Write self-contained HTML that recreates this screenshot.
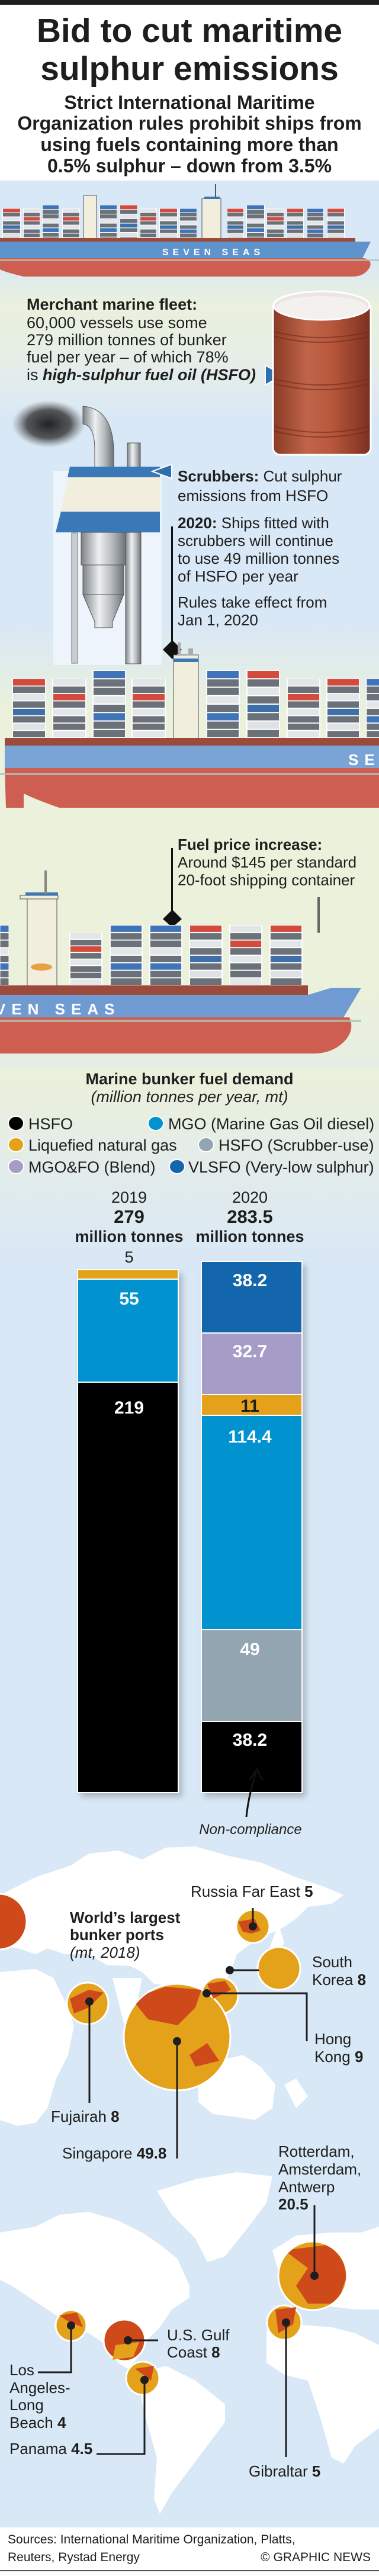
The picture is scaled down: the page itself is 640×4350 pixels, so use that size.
<!DOCTYPE html>
<html><head><meta charset="utf-8"><style>
html,body{margin:0;padding:0;background:#fff}
svg{display:block}
text{font-family:"Liberation Sans",Arial,sans-serif;fill:#1e1e1e}
.b{font-weight:bold}
</style></head><body>
<svg xmlns="http://www.w3.org/2000/svg" width="640" height="4350" viewBox="0 0 640 4350">
<defs>
<linearGradient id="bg1" x1="0" y1="0" x2="0" y2="1">
<stop offset="0" stop-color="#d9e8f6"/><stop offset="0.09" stop-color="#d9e8f6"/>
<stop offset="0.14" stop-color="#eaf1dd"/><stop offset="0.2" stop-color="#e6eee6"/>
<stop offset="0.27" stop-color="#d9e8f6"/><stop offset="0.5" stop-color="#d9e8f6"/>
<stop offset="0.6" stop-color="#ebf1db"/><stop offset="0.9" stop-color="#ebf1da"/>
<stop offset="1" stop-color="#e6eee4"/></linearGradient>
<linearGradient id="bg2" x1="0" y1="0" x2="0" y2="1">
<stop offset="0" stop-color="#ebf1da"/><stop offset="0.5" stop-color="#e3ecea"/><stop offset="1" stop-color="#d9e8f6"/></linearGradient>
<linearGradient id="barrel" x1="0" y1="0" x2="1" y2="0">
<stop offset="0" stop-color="#8a3a26"/><stop offset="0.35" stop-color="#c0654a"/><stop offset="0.6" stop-color="#b8573c"/><stop offset="1" stop-color="#7a3020"/></linearGradient>
<linearGradient id="metal" x1="0" y1="0" x2="1" y2="0">
<stop offset="0" stop-color="#7d8286"/><stop offset="0.4" stop-color="#eef0f1"/><stop offset="0.7" stop-color="#b5babe"/><stop offset="1" stop-color="#6d7276"/></linearGradient>
<radialGradient id="smoke"><stop offset="0" stop-color="#222"/><stop offset="0.6" stop-color="#333" stop-opacity="0.8"/><stop offset="1" stop-color="#666" stop-opacity="0"/></radialGradient>
<filter id="sh" x="-20%" y="-20%" width="140%" height="140%"><feGaussianBlur stdDeviation="5"/></filter>
<symbol id="sA" viewBox="0 0 60 112" preserveAspectRatio="none">
<rect width="60" height="112" fill="#fff"/>
<rect x="2" y="1" width="56" height="12" fill="#d24b3c"/><rect x="2" y="15" width="56" height="12" fill="#6b7178"/><rect x="2" y="29" width="56" height="12" fill="#e3e6e9"/><rect x="2" y="43" width="56" height="12" fill="#6b7178"/><rect x="2" y="57" width="56" height="12" fill="#3f6fa8"/><rect x="2" y="71" width="56" height="12" fill="#6b7178"/><rect x="2" y="85" width="56" height="12" fill="#dfe2e5"/><rect x="2" y="99" width="56" height="12" fill="#6b7178"/></symbol>
<symbol id="sB" viewBox="0 0 60 112" preserveAspectRatio="none">
<rect width="60" height="112" fill="#fff"/>
<rect x="2" y="1" width="56" height="12" fill="#3f74b8"/><rect x="2" y="15" width="56" height="12" fill="#6b7178"/><rect x="2" y="29" width="56" height="12" fill="#6b7178"/><rect x="2" y="43" width="56" height="12" fill="#e3e6e9"/><rect x="2" y="57" width="56" height="12" fill="#6b7178"/><rect x="2" y="71" width="56" height="12" fill="#3f74b8"/><rect x="2" y="85" width="56" height="12" fill="#6b7178"/><rect x="2" y="99" width="56" height="12" fill="#6b7178"/></symbol>
<symbol id="sC" viewBox="0 0 60 112" preserveAspectRatio="none">
<rect width="60" height="112" fill="#fff"/>
<rect x="2" y="1" width="56" height="12" fill="#e3e6e9"/><rect x="2" y="15" width="56" height="12" fill="#6b7178"/><rect x="2" y="29" width="56" height="12" fill="#d24b3c"/><rect x="2" y="43" width="56" height="12" fill="#6b7178"/><rect x="2" y="57" width="56" height="12" fill="#e3e6e9"/><rect x="2" y="71" width="56" height="12" fill="#6b7178"/><rect x="2" y="85" width="56" height="12" fill="#6b7178"/><rect x="2" y="99" width="56" height="12" fill="#e3e6e9"/></symbol>
<clipPath id="cSing"><circle cx="299" cy="3440" r="89"/></clipPath>
<clipPath id="cRot"><circle cx="528" cy="3843" r="56"/></clipPath>
</defs>

<rect width="640" height="4350" fill="#d9e8f6"/>
<rect y="305" width="640" height="1500" fill="url(#bg1)"/>
<rect y="1805" width="640" height="330" fill="url(#bg2)"/>
<rect width="640" height="305" fill="#fff"/>
<rect width="640" height="8" fill="#1e1e1e"/>

<text x="320" y="71" text-anchor="middle" class="b" font-size="57">Bid to cut maritime</text>
<text x="320" y="135" text-anchor="middle" class="b" font-size="57">sulphur emissions</text>
<text x="320" y="184" text-anchor="middle" class="b" font-size="32">Strict International Maritime</text>
<text x="320" y="219" text-anchor="middle" class="b" font-size="32">Organization rules prohibit ships from</text>
<text x="320" y="255" text-anchor="middle" class="b" font-size="32">using fuels containing more than</text>
<text x="320" y="291" text-anchor="middle" class="b" font-size="32">0.5% sulphur – down from 3.5%</text>

<g>
<use href="#sA" x="4" y="352" width="31" height="56"/><use href="#sC" x="39" y="352" width="29" height="56"/><use href="#sB" x="71" y="346" width="29" height="62"/><use href="#sC" x="105" y="352" width="30" height="56"/>
<rect x="141" y="330" width="22" height="78" fill="#f1eedd" stroke="#555" stroke-width="1"/>
<use href="#sB" x="168" y="346" width="30" height="62"/><use href="#sA" x="202" y="346" width="31" height="62"/><use href="#sC" x="236" y="352" width="29" height="56"/><use href="#sA" x="269" y="352" width="31" height="56"/><use href="#sB" x="303" y="352" width="30" height="56"/>
<rect x="341" y="335" width="32" height="73" fill="#f1eedd" stroke="#555" stroke-width="1"/><rect x="345" y="332" width="26" height="4" fill="#3f74b8"/><rect x="363" y="311" width="2" height="22" fill="#555"/>
<use href="#sA" x="383" y="352" width="29" height="56"/><use href="#sB" x="416" y="346" width="31" height="62"/><use href="#sC" x="450" y="352" width="30" height="56"/><use href="#sA" x="484" y="352" width="29" height="56"/><use href="#sB" x="518" y="352" width="29" height="56"/><use href="#sA" x="552" y="352" width="30" height="56"/>
<rect x="0" y="402" width="600" height="7" fill="#9b4a3c"/>
<polygon points="0,408 626,408 612,436 0,436" fill="#5f93cc"/>
<text x="360" y="431" text-anchor="middle" class="b" font-size="16" letter-spacing="7" style="fill:#fff">SEVEN SEAS</text>
<path d="M0,436 L615,436 Q630,440 624,452 Q615,467 595,467 L40,467 Q10,460 0,455 Z" fill="#cf5e52"/>
<rect x="0" y="438" width="640" height="3" fill="#a9c7b5" opacity="0.8"/>
</g>

<text x="45" y="523" class="b" font-size="27">Merchant marine fleet:</text>
<text x="45" y="554" font-size="27">60,000 vessels use some</text>
<text x="45" y="583" font-size="27">279 million tonnes of bunker</text>
<text x="45" y="612" font-size="27">fuel per year – of which 78%</text>
<text x="45" y="642" font-size="27">is <tspan class="b" font-style="italic">high-sulphur fuel oil (HSFO)</tspan></text>
<polygon points="448,617 478,633 448,650" fill="#2e6fb0" stroke="#fff" stroke-width="2"/>

<g>
<rect x="461" y="510" width="165" height="258" rx="12" fill="url(#barrel)" stroke="#fff" stroke-width="3"/>
<ellipse cx="543" cy="516" rx="81" ry="24" fill="#ece6e2" stroke="#fff" stroke-width="3"/>
<ellipse cx="543" cy="519" rx="76" ry="19" fill="#f4f0ee"/>
<g fill="none" stroke="#6f2a1a" stroke-width="2" opacity="0.6">
<path d="M463,560 Q543,580 624,560"/><path d="M463,568 Q543,588 624,568"/><path d="M463,640 Q543,660 624,640"/><path d="M463,648 Q543,668 624,648"/><path d="M463,720 Q543,740 624,720"/><path d="M463,728 Q543,748 624,728"/></g>
</g>

<ellipse cx="82" cy="716" rx="62" ry="40" fill="url(#smoke)"/>
<rect x="90" y="795" width="183" height="328" fill="#eef4fb"/>
<path d="M140,686 Q190,690 192,760 L192,790 L160,790 L160,760 Q160,718 140,716 Z" fill="url(#metal)" stroke="#555"/>
<rect x="215" y="748" width="22" height="42" fill="url(#metal)" stroke="#555"/>
<polygon points="120,788 270,788 270,899 94,899" fill="#f1eedd"/>
<polygon points="118,788 270,788 270,806 114,806" fill="#3b78b7"/>
<polygon points="103,864 270,864 270,899 94,899" fill="#3b78b7"/>
<rect x="137" y="899" width="75" height="55" fill="url(#metal)" stroke="#555"/>
<rect x="140" y="954" width="69" height="50" fill="url(#metal)" stroke="#555"/>
<polygon points="140,1004 209,1004 190,1050 190,1060 160,1060 160,1050" fill="url(#metal)" stroke="#555"/>
<rect x="212" y="899" width="26" height="222" fill="url(#metal)" stroke="#555"/>
<rect x="121" y="900" width="10" height="220" fill="#c9cdd0" stroke="#777"/>
<polygon points="257,796 290,784 290,808" fill="#2e6fb0" stroke="#fff" stroke-width="2"/>

<text x="300" y="813" font-size="26"><tspan class="b">Scrubbers:</tspan> Cut sulphur</text>
<text x="300" y="846" font-size="26">emissions from HSFO</text>
<text x="300" y="892" font-size="26"><tspan class="b">2020:</tspan> Ships fitted with</text>
<text x="300" y="922" font-size="26">scrubbers will continue</text>
<text x="300" y="952" font-size="26">to use 49 million tonnes</text>
<text x="300" y="982" font-size="26">of HSFO per year</text>
<text x="300" y="1026" font-size="26">Rules take effect from</text>
<text x="300" y="1056" font-size="26">Jan 1, 2020</text>
<rect x="289" y="889" width="3" height="205" fill="#111"/>
<polygon points="291,1081 307,1097 291,1113 275,1097" fill="#111"/>

<g>
<use href="#sA" x="20" y="1146" width="58" height="100"/><use href="#sC" x="88" y="1146" width="58" height="100"/><use href="#sB" x="156" y="1132" width="57" height="114"/><use href="#sC" x="222" y="1146" width="58" height="100"/>
<rect x="293" y="1106" width="42" height="153" fill="#f1eedd" stroke="#555"/><rect x="293" y="1112" width="42" height="6" fill="#3b78b7"/><rect x="300" y="1085" width="5" height="22" fill="#aaa"/><rect x="318" y="1095" width="8" height="12" fill="#aaa"/>
<use href="#sB" x="348" y="1132" width="57" height="114"/><use href="#sA" x="416" y="1132" width="57" height="114"/><use href="#sC" x="484" y="1146" width="57" height="100"/><use href="#sA" x="551" y="1146" width="57" height="100"/><use href="#sB" x="618" y="1146" width="40" height="100"/>
<rect x="8" y="1246" width="632" height="13" fill="#9b4a3c"/>
<rect x="8" y="1259" width="632" height="38" fill="#7aa3d6"/>
<text x="588" y="1292" class="b" font-size="26" letter-spacing="10" style="fill:#fff">SE</text>
<path d="M8,1297 L640,1297 L640,1364 L100,1364 Q60,1350 40,1340 L40,1364 L10,1364 Z" fill="#cf5e52"/>
<rect x="0" y="1305" width="640" height="4" fill="#a9c7b5" opacity="0.8"/>
</g>

<text x="300" y="1435" class="b" font-size="26">Fuel price increase:</text>
<text x="300" y="1465" font-size="26">Around $145 per standard</text>
<text x="300" y="1495" font-size="26">20-foot shipping container</text>
<rect x="289" y="1432" width="3" height="112" fill="#111"/>
<polygon points="291,1536 307,1552 291,1566 275,1552" fill="#111"/>

<g>
<use href="#sB" x="0" y="1562" width="15" height="102"/>
<rect x="46" y="1514" width="50" height="166" fill="#f1eedd" stroke="#555"/><rect x="34" y="1512" width="64" height="6" fill="#f1eedd" stroke="#555"/><rect x="43" y="1507" width="55" height="5" fill="#3b78b7"/><rect x="75" y="1470" width="4" height="40" fill="#888"/>
<ellipse cx="70" cy="1633" rx="18" ry="6" fill="#e8a040"/>
<use href="#sC" x="117" y="1575" width="56" height="89"/><use href="#sB" x="185" y="1562" width="56" height="102"/><use href="#sB" x="252" y="1562" width="56" height="102"/><use href="#sA" x="319" y="1562" width="57" height="102"/><use href="#sC" x="387" y="1562" width="56" height="102"/><use href="#sA" x="455" y="1562" width="56" height="102"/>
<rect x="536" y="1515" width="4" height="60" fill="#666"/>
<rect x="0" y="1664" width="520" height="16" fill="#9b4a3c"/>
<polygon points="0,1680 520,1680 560,1668 610,1668 580,1718 0,1718" fill="#6f9bd2"/>
<text x="-8" y="1713" class="b" font-size="26" letter-spacing="10" style="fill:#fff">VEN SEAS</text>
<path d="M0,1718 L590,1718 Q600,1740 580,1760 Q560,1779 530,1779 L0,1779 Z" fill="#cf5e52"/>
<rect x="0" y="1722" width="610" height="4" fill="#a9c7b5" opacity="0.8"/>
</g>

<text x="320" y="1831" text-anchor="middle" class="b" font-size="27">Marine bunker fuel demand</text>
<text x="320" y="1861" text-anchor="middle" font-style="italic" font-size="27">(million tonnes per year, mt)</text>
<g font-size="27">
<ellipse cx="27" cy="1897" rx="13" ry="12" fill="#000" stroke="#fff" stroke-width="2"/><text x="48" y="1907">HSFO</text>
<ellipse cx="263" cy="1897" rx="13" ry="12" fill="#0093d0" stroke="#fff" stroke-width="2"/><text x="284" y="1907">MGO (Marine Gas Oil diesel)</text>
<ellipse cx="27" cy="1933" rx="13" ry="12" fill="#e3a21a" stroke="#fff" stroke-width="2"/><text x="48" y="1943">Liquefied natural gas</text>
<ellipse cx="348" cy="1933" rx="13" ry="12" fill="#93a5b1" stroke="#fff" stroke-width="2"/><text x="369" y="1943">HSFO (Scrubber-use)</text>
<ellipse cx="27" cy="1970" rx="13" ry="12" fill="#a59dc8" stroke="#fff" stroke-width="2"/><text x="48" y="1980">MGO&amp;FO (Blend)</text>
<ellipse cx="299" cy="1970" rx="13" ry="12" fill="#1366ab" stroke="#fff" stroke-width="2"/><text x="318" y="1980">VLSFO (Very-low sulphur)</text>
</g>
<text x="218" y="2031" text-anchor="middle" font-size="27">2019</text>
<text x="218" y="2065" text-anchor="middle" class="b" font-size="31">279</text>
<text x="218" y="2097" text-anchor="middle" class="b" font-size="27">million tonnes</text>
<text x="218" y="2132" text-anchor="middle" font-size="27">5</text>
<text x="422" y="2031" text-anchor="middle" font-size="27">2020</text>
<text x="422" y="2065" text-anchor="middle" class="b" font-size="31">283.5</text>
<text x="422" y="2097" text-anchor="middle" class="b" font-size="27">million tonnes</text>

<rect x="136" y="2150" width="172" height="885" fill="#7f8a96" opacity="0.5" filter="url(#sh)"/>
<rect x="345" y="2136" width="172" height="899" fill="#7f8a96" opacity="0.5" filter="url(#sh)"/>
<g stroke="#fff" stroke-width="2">
<rect x="131" y="2144" width="170" height="16" fill="#e3a21a"/>
<rect x="131" y="2160" width="170" height="174" fill="#0093d0"/>
<rect x="131" y="2334" width="170" height="693" fill="#000"/>
<rect x="340" y="2130" width="170" height="121" fill="#1366ab"/>
<rect x="340" y="2251" width="170" height="104" fill="#a59dc8"/>
<rect x="340" y="2355" width="170" height="35" fill="#e3a21a"/>
<rect x="340" y="2390" width="170" height="362" fill="#0093d0"/>
<rect x="340" y="2752" width="170" height="155" fill="#93a5b1"/>
<rect x="340" y="2907" width="170" height="120" fill="#000"/>
</g>
<g font-size="30" text-anchor="middle" font-weight="bold">
<text x="218" y="2203" style="fill:#fff">55</text>
<text x="218" y="2387" style="fill:#fff">219</text>
<text x="422" y="2172" style="fill:#fff">38.2</text>
<text x="422" y="2292" style="fill:#fff">32.7</text>
<text x="422" y="2384" style="fill:#1e1e1e">11</text>
<text x="422" y="2436" style="fill:#fff">114.4</text>
<text x="422" y="2795" style="fill:#fff">49</text>
<text x="422" y="2948" style="fill:#fff">38.2</text>
</g>
<path d="M416,3068 Q420,3030 432,2995" fill="none" stroke="#111" stroke-width="3"/>
<polyline points="422,3005 434,2988 443,3006" fill="none" stroke="#111" stroke-width="3"/>
<text x="423" y="3097" text-anchor="middle" font-style="italic" font-size="24">Non-compliance</text>

<g fill="#fff">
<path d="M0,3200 L30,3185 L60,3170 L120,3150 L150,3130 L200,3125 L240,3140 L280,3120 L330,3118 L390,3135 L440,3145 L500,3170 L545,3185 L580,3200 L560,3215 L520,3220 L500,3240 L470,3260 L440,3270 L400,3300 L390,3330 L370,3360 L340,3360 L300,3355 L260,3350 L240,3330 L220,3320 L180,3318 L150,3300 L110,3300 L80,3290 L60,3300 L30,3290 L0,3285 Z"/>
<path d="M0,3330 L60,3325 L90,3340 L110,3380 L125,3420 L115,3470 L95,3510 L80,3560 L60,3585 L30,3590 L0,3580 Z"/>
<path d="M190,3340 L240,3340 L230,3390 L210,3420 L200,3380 Z"/>
<path d="M335,3500 L370,3480 L410,3470 L440,3490 L465,3520 L460,3560 L430,3580 L400,3575 L360,3570 L335,3550 Z"/>
<path d="M480,3520 L500,3510 L520,3540 L500,3560 Z"/>
<path d="M470,3250 L480,3280 L465,3310 L455,3290 Z"/>
</g>
<g fill="#fff">
<path d="M0,3770 L60,3760 L100,3740 L150,3735 L200,3750 L240,3770 L270,3790 L300,3815 L320,3860 L320,3880 L290,3900 L270,3930 L250,3950 L230,3985 L215,4000 L200,3990 L180,3960 L150,3940 L110,3920 L80,3900 L50,3880 L20,3860 L0,3850 Z"/>
<path d="M265,3700 L330,3680 L400,3668 L460,3675 L450,3720 L420,3760 L380,3810 L350,3820 L330,3780 L290,3740 Z"/>
<path d="M230,4010 L280,3995 L330,4020 L380,4060 L380,4090 L350,4130 L320,4170 L290,4210 L270,4245 L260,4220 L265,4150 L245,4080 Z"/>
<path d="M460,3800 L500,3775 L560,3770 L610,3770 L640,3760 L640,3900 L600,3900 L560,3895 L520,3890 L480,3870 Z"/>
<path d="M450,3935 L500,3925 L560,3930 L600,3940 L640,3960 L640,4100 L600,4130 L580,4160 L560,4150 L540,4080 L520,4020 L480,4010 L450,3990 Z"/>
</g>

<g stroke="#fff" stroke-width="3">
<circle cx="-2" cy="3245" r="47" fill="#cf4a1b"/>
<circle cx="427" cy="3253" r="28" fill="#e3a21a"/>
<circle cx="471" cy="3324" r="36" fill="#e3a21a"/>
<circle cx="371" cy="3370" r="31" fill="#e3a21a"/>
<circle cx="148" cy="3383" r="35" fill="#e3a21a"/>
<circle cx="299" cy="3440" r="90" fill="#e3a21a"/>
<circle cx="528" cy="3843" r="58" fill="#e3a21a"/>
<circle cx="480" cy="3922" r="29" fill="#e3a21a"/>
<circle cx="120" cy="3927" r="26" fill="#e3a21a"/>
<circle cx="210" cy="3952" r="35" fill="#cf4a1b"/>
<circle cx="241" cy="4016" r="28" fill="#e3a21a"/>
</g>
<g fill="#cf4a1b">
<path d="M402,3245 L430,3240 L440,3260 L425,3265 L410,3262 Z"/>
<path d="M350,3350 L380,3345 L390,3360 L360,3375 Z"/>
<path d="M118,3375 L150,3360 L175,3365 L150,3390 L125,3400 Z"/>
<path d="M222,3375 L280,3355 L340,3360 L330,3390 L300,3420 L250,3410 Z" clip-path="url(#cSing)"/>
<path d="M320,3470 L350,3450 L370,3480 L330,3490 Z"/>
<path d="M480,3800 L560,3790 L590,3830 L570,3890 L520,3890 L500,3860 L520,3830 Z" clip-path="url(#cRot)"/>
<path d="M465,3900 L500,3896 L495,3925 L470,3940 Z"/>
<path d="M100,3910 L130,3905 L140,3930 L115,3920 Z"/>
<path d="M228,4000 L260,3995 L255,4020 Z"/>
<path d="M195,3960 L235,3955 L225,3980 L190,3985 Z" fill="#e3a21a"/>
</g>
<g fill="#1e1e1e">
<circle cx="427" cy="3253" r="7"/><circle cx="388" cy="3327" r="7"/><circle cx="349" cy="3366" r="7"/><circle cx="151" cy="3380" r="7"/><circle cx="299" cy="3447" r="7"/>
<circle cx="531" cy="3843" r="7"/><circle cx="483" cy="3922" r="7"/><circle cx="120" cy="3927" r="7"/><circle cx="216" cy="3952" r="7"/><circle cx="244" cy="4019" r="7"/>
</g>
<g stroke="#1e1e1e" stroke-width="3" fill="none">
<path d="M427,3253 V3222"/><path d="M388,3327 H437"/><path d="M349,3366 H518 V3447"/><path d="M151,3380 V3551"/><path d="M299,3447 V3645"/>
<path d="M531,3843 V3724"/><path d="M483,3922 V4149"/><path d="M120,3927 V4006 H64"/><path d="M216,3952 H267"/><path d="M244,4019 V4144 H163"/>
</g>
<g font-size="26">
<text x="322" y="3203">Russia Far East <tspan class="b">5</tspan></text>
<text x="118" y="3247" class="b">World’s largest</text>
<text x="118" y="3276" class="b">bunker ports</text>
<text x="118" y="3306" font-style="italic">(mt, 2018)</text>
<text x="527" y="3322">South</text><text x="527" y="3352">Korea <tspan class="b">8</tspan></text>
<text x="531" y="3452">Hong</text><text x="531" y="3482">Kong <tspan class="b">9</tspan></text>
<text x="86" y="3583">Fujairah <tspan class="b">8</tspan></text>
<text x="105" y="3645">Singapore <tspan class="b">49.8</tspan></text>
<text x="470" y="3642">Rotterdam,</text><text x="470" y="3672">Amsterdam,</text><text x="470" y="3702">Antwerp</text><text x="470" y="3731" class="b">20.5</text>
<text x="282" y="3952">U.S. Gulf</text><text x="282" y="3981">Coast <tspan class="b">8</tspan></text>
<text x="16" y="4011">Los</text><text x="16" y="4041">Angeles-</text><text x="16" y="4070">Long</text><text x="16" y="4100">Beach <tspan class="b">4</tspan></text>
<text x="16" y="4144">Panama <tspan class="b">4.5</tspan></text>
<text x="420" y="4182">Gibraltar <tspan class="b">5</tspan></text>
</g>

<rect x="0" y="4268" width="640" height="82" fill="#fff"/>
<text x="13" y="4295" font-size="21">Sources: International Maritime Organization, Platts,</text>
<text x="13" y="4325" font-size="21">Reuters, Rystad Energy</text>
<text x="626" y="4325" font-size="21" text-anchor="end">© GRAPHIC NEWS</text>
<rect x="0" y="4340" width="640" height="2" fill="#555"/>
</svg>
</body></html>
